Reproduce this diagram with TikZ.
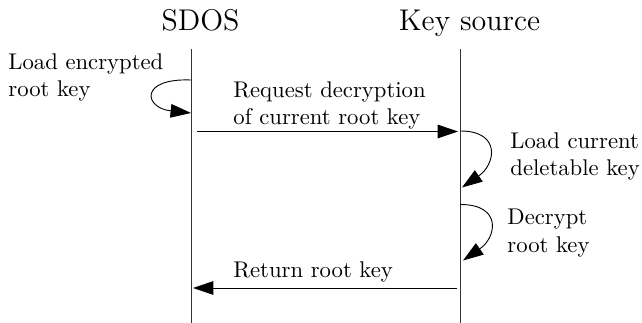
\documentclass[tikz,border=0pt]{standalone}
\usetikzlibrary{arrows.meta}
\begin{document}
\begin{tikzpicture}[x=0.4405pt,y=-0.4405pt,
  title/.style={font=\fontsize{13.2}{16}\selectfont,anchor=base,inner sep=0pt},
  lbl/.style={anchor=north west,align=left,inner sep=0pt},
  lifeline/.style={draw=black!80,line width=0.4pt},
  msg/.style={-{Triangle[length=9pt,width=6pt]},line width=0.4pt}]
\useasboundingbox (0,0) rectangle (642,323);
% titles
\node[title] (sdos) at (200.5,30.5) {SDOS};
\node[title] (ks) at (469.5,30.5) {Key source};
% lifelines
\coordinate (sTop) at (191,49);
\coordinate (sBot) at (191,323);
\coordinate (kTop) at (460.5,49);
\coordinate (kBot) at (460.5,323);
\draw[lifeline] (sTop) -- (sBot);
\draw[lifeline] (kTop) -- (kBot);
% self loop SDOS
\coordinate (l1a) at (191,80);
\coordinate (l1b) at (191,113);
\draw[msg] (l1a) .. controls (139,78) and (144,108) .. (l1b);
\node[lbl] (t1) at (8,53.5) {Load encrypted\\root key};
% request
\coordinate (r1) at (197,131.5);
\coordinate (r2) at (458,131.5);
\draw[msg] (r1) -- (r2);
\node[lbl] (t2) at (233,81) {Request decryption\\of current root key};
% loop key source 1
\coordinate (k1a) at (460.5,131);
\coordinate (k1b) at (462,187.5);
\draw[msg] (k1a) .. controls (501,131) and (496,164) .. (k1b);
\node[lbl] (t3) at (510,132) {Load current\\deletable key};
% loop key source 2
\coordinate (k2a) at (460.5,204.5);
\coordinate (k2b) at (463,260.5);
\draw[msg] (k2a) .. controls (502,204.5) and (497,237) .. (k2b);
\node[lbl] (t4) at (507,209) {Decrypt\\root key};
% return
\coordinate (b1) at (457,288);
\coordinate (b2) at (193,288);
\draw[msg] (b1) -- (b2);
\node[anchor=base west,inner sep=0pt] (t5) at (233,278) {Return root key};
\end{tikzpicture}
\end{document}
